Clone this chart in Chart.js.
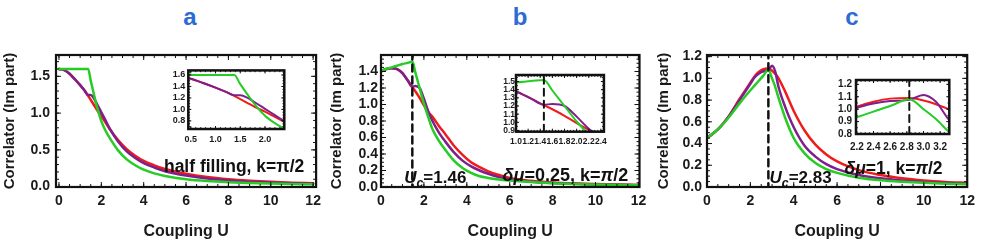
<!DOCTYPE html>
<html>
<head>
<meta charset="utf-8">
<script src="https://cdn.jsdelivr.net/npm/chart.js@4.4.1/dist/chart.umd.min.js"></script>
<style>
body{margin:0;width:981px;height:244px;background:#fff;position:relative;overflow:hidden}
canvas{position:absolute}
.tag{position:absolute;top:3px;width:40px;text-align:center;line-height:24px;color:#2c6ad5;font:bold 24px "Liberation Sans",Arial,sans-serif}
</style>
</head>
<body>
<div class="tag" style="left:170px">a</div>
<div class="tag" style="left:500px">b</div>
<div class="tag" style="left:832px">c</div>
<canvas id="cA" width="327" height="204" style="left:0;top:40px"></canvas>
<canvas id="cB" width="327" height="204" style="left:327px;top:40px"></canvas>
<canvas id="cC" width="327" height="204" style="left:654px;top:40px"></canvas>
<canvas id="iA" width="130" height="85" style="left:160px;top:62px"></canvas>
<canvas id="iB" width="122" height="85" style="left:490px;top:68px"></canvas>
<canvas id="iC" width="130" height="85" style="left:825px;top:70px"></canvas>
<script>
/* panel a : half filling */
const uA = [0, 0.25, 0.5, 0.75, 1.0, 1.2, 1.38, 1.5, 1.63, 1.8, 2.0, 2.2, 2.4, 2.8, 3.2, 3.6, 4, 4.5, 5, 6, 7, 8, 9, 10, 11, 12];
const redA = [1.60, 1.585, 1.535, 1.46, 1.38, 1.31, 1.235, 1.18, 1.12, 1.04, 0.96, 0.87, 0.78, 0.63, 0.51, 0.42, 0.35, 0.29, 0.24, 0.175, 0.13, 0.10, 0.08, 0.065, 0.054, 0.045];
const purpleA = [1.60, 1.585, 1.535, 1.46, 1.38, 1.31, 1.245, 1.245, 1.21, 1.12, 1.01, 0.90, 0.79, 0.61, 0.48, 0.39, 0.32, 0.26, 0.21, 0.15, 0.11, 0.085, 0.068, 0.055, 0.046, 0.04];
const greenA = [1.60, 1.60, 1.60, 1.60, 1.60, 1.60, 1.60, 1.44, 1.28, 1.08, 0.89, 0.76, 0.66, 0.49, 0.37, 0.29, 0.23, 0.18, 0.145, 0.10, 0.075, 0.06, 0.05, 0.042, 0.036, 0.031];

/* panel b : dmu = 0.25 */
const uB = [0, 0.25, 0.5, 0.75, 1.0, 1.25, 1.46, 1.6, 1.8, 2.0, 2.2, 2.4, 2.7, 3.0, 3.4, 3.8, 4.2, 4.6, 5, 5.5, 6, 7, 8, 9, 10, 11, 12];
const redB = [1.40, 1.43, 1.44, 1.43, 1.38, 1.29, 1.21, 1.16, 1.08, 0.99, 0.91, 0.85, 0.74, 0.64, 0.50, 0.39, 0.30, 0.24, 0.19, 0.145, 0.11, 0.075, 0.055, 0.043, 0.035, 0.029, 0.025];
const purpleB = [1.40, 1.43, 1.44, 1.43, 1.38, 1.29, 1.215, 1.225, 1.20, 1.07, 0.92, 0.80, 0.66, 0.55, 0.42, 0.32, 0.25, 0.20, 0.16, 0.12, 0.095, 0.065, 0.048, 0.038, 0.031, 0.026, 0.022];
const greenB = [1.41, 1.43, 1.45, 1.47, 1.49, 1.505, 1.52, 1.39, 1.20, 1.01, 0.85, 0.70, 0.56, 0.45, 0.32, 0.23, 0.17, 0.13, 0.11, 0.09, 0.078, 0.06, 0.045, 0.036, 0.03, 0.025, 0.02];
const ucB = 1.46;

/* panel c : dmu = 1 */
const uC = [0, 0.5, 1.0, 1.5, 2.0, 2.2, 2.4, 2.6, 2.83, 3.0, 3.15, 3.3, 3.6, 4.0, 4.5, 5, 5.5, 6, 7, 8, 9, 10, 11, 12];
const redC = [0.45, 0.53, 0.65, 0.81, 0.96, 1.02, 1.06, 1.085, 1.09, 1.07, 1.04, 1.00, 0.88, 0.70, 0.52, 0.39, 0.30, 0.235, 0.155, 0.11, 0.08, 0.06, 0.047, 0.038];
const purpleC = [0.45, 0.53, 0.65, 0.80, 0.95, 1.01, 1.045, 1.065, 1.075, 1.115, 1.06, 0.92, 0.74, 0.55, 0.38, 0.28, 0.21, 0.165, 0.11, 0.08, 0.06, 0.047, 0.038, 0.031];
const greenC = [0.45, 0.53, 0.64, 0.77, 0.89, 0.935, 0.98, 1.025, 1.08, 1.00, 0.92, 0.82, 0.64, 0.45, 0.31, 0.22, 0.165, 0.13, 0.085, 0.062, 0.048, 0.038, 0.031, 0.026];
const ucC = 2.83;

/* ticks */
const xTicksMain = [0, 2, 4, 6, 8, 10, 12];
const yTicksA = [0, 0.5, 1.0, 1.5];
const yTicksB = [0, 0.2, 0.4, 0.6, 0.8, 1.0, 1.2, 1.4];
const yTicksC = [0, 0.2, 0.4, 0.6, 0.8, 1.0, 1.2];
const xTicksIA = [0.5, 1.0, 1.5, 2.0];
const yTicksIA = [0.8, 1.0, 1.2, 1.4, 1.6];
const xTicksIB = [1.0, 1.2, 1.4, 1.6, 1.8, 2.0, 2.2, 2.4];
const yTicksIB = [0.9, 1.0, 1.1, 1.2, 1.3, 1.4, 1.5];
const xTicksIC = [2.2, 2.4, 2.6, 2.8, 3.0, 3.2];
const yTicksIC = [0.8, 0.9, 1.0, 1.1, 1.2];

const FONT = '"Liberation Sans", Arial, sans-serif';
const RED = '#f01c1c', PURPLE = '#7f1f8c', GREEN = '#24cc24';

function pts(u, v){ return u.map((x, i) => ({x: x, y: v[i]})); }

function series(u, r, p, g, w, uc){
  const s = [];
  if(uc != null){
    s.push({data: [{x: uc, y: -5}, {x: uc, y: 5}], borderColor: '#111', borderWidth: w, borderDash: [7, 5], cubicInterpolationMode: 'default', tension: 0});
  }
  s.push({data: pts(u, g), borderColor: GREEN, borderWidth: w});
  s.push({data: pts(u, p), borderColor: PURPLE, borderWidth: w});
  s.push({data: pts(u, r), borderColor: RED, borderWidth: w});
  return s;
}

function drawSegs(ctx, px, py, segs, size, align){
  const fonts = segs.map(s => (s.it ? 'italic ' : '') + 'bold ' + (s.sub ? size * 0.72 : size) + 'px ' + FONT);
  let w = 0;
  segs.forEach((s, i) => { ctx.font = fonts[i]; w += ctx.measureText(s.t).width; });
  let cx = align === 'right' ? px - w : px;
  ctx.textAlign = 'left';
  ctx.textBaseline = 'alphabetic';
  segs.forEach((s, i) => {
    ctx.font = fonts[i];
    ctx.fillText(s.t, cx, py + (s.sub ? size * 0.22 : 0));
    cx += ctx.measureText(s.t).width;
  });
}

/* frame with inward ticks + text notes */
const framePlugin = {
  id: 'frame',
  beforeDatasetsDraw(chart, args, o){
    if(!o.fill) return;
    const a = chart.chartArea, ctx = chart.ctx;
    ctx.save();
    ctx.fillStyle = '#fff';
    ctx.fillRect(a.left, a.top, a.width, a.height);
    ctx.restore();
  },
  afterDatasetsDraw(chart, args, o){
    const {ctx, chartArea: a, scales: {x, y}} = chart;
    ctx.save();
    ctx.strokeStyle = '#111';
    ctx.lineWidth = 1;
    const mark = (scale, step, len) => {
      const start = Math.ceil(scale.min / step - 1e-6) * step;
      for(let v = start; v <= scale.max + 1e-9; v += step){
        const p = scale.getPixelForValue(v);
        ctx.beginPath();
        if(scale.axis === 'x'){
          ctx.moveTo(p, a.bottom); ctx.lineTo(p, a.bottom - len);
          ctx.moveTo(p, a.top); ctx.lineTo(p, a.top + len);
        } else {
          ctx.moveTo(a.left, p); ctx.lineTo(a.left + len, p);
          ctx.moveTo(a.right, p); ctx.lineTo(a.right - len, p);
        }
        ctx.stroke();
      }
    };
    mark(x, o.xMajor, o.len); mark(x, o.xMinor, o.len * 0.6);
    mark(y, o.yMajor, o.len); mark(y, o.yMinor, o.len * 0.6);
    ctx.lineWidth = o.lw;
    ctx.strokeRect(a.left, a.top, a.width, a.height);
    ctx.fillStyle = '#111';
    (o.notes || []).forEach(n => {
      drawSegs(ctx, x.getPixelForValue(n.x), y.getPixelForValue(n.y), n.segs, n.size, n.align);
    });
    ctx.restore();
  }
};

function makeChart(id, c){
  const tickFont = {family: FONT, size: c.fs, weight: 'bold'};
  new Chart(document.getElementById(id), {
    type: 'line',
    data: {datasets: c.datasets},
    options: {
      responsive: false,
      animation: false,
      events: [],
      clip: true,
      layout: {autoPadding: false, padding: {left: 0, top: c.padT, right: c.padR, bottom: 0}},
      elements: {
        point: {radius: 0},
        line: {cubicInterpolationMode: 'monotone', fill: false, borderCapStyle: 'round', borderJoinStyle: 'round'}
      },
      plugins: {
        legend: {display: false},
        tooltip: {enabled: false},
        frame: {lw: c.lw, len: c.len, xMajor: c.xMajor, xMinor: c.xMinor, yMajor: c.yMajor, yMinor: c.yMinor, notes: c.notes, fill: c.fill}
      },
      scales: {
        x: {
          type: 'linear', min: c.xr[0], max: c.xr[1],
          grid: {display: false, drawTicks: false}, border: {display: false},
          afterBuildTicks: s => { s.ticks = c.xt.map(v => ({value: v})); },
          afterFit: s => { s.height = c.xH; },
          ticks: {font: tickFont, color: '#1a1a1a', padding: c.xPad, autoSkip: false, maxRotation: 0, minRotation: 0,
            callback: v => v.toFixed(c.xDec)},
          title: c.xTitle ? {display: true, text: c.xTitle, color: '#1a1a1a', font: {family: FONT, size: 16, weight: 'bold'}, padding: {top: 0, bottom: 3}} : {display: false}
        },
        y: {
          type: 'linear', min: c.yr[0], max: c.yr[1],
          grid: {display: false, drawTicks: false}, border: {display: false},
          afterBuildTicks: s => { s.ticks = c.yt.map(v => ({value: v})); },
          afterFit: s => { s.width = c.yW; },
          ticks: {font: tickFont, color: '#1a1a1a', padding: c.yPad, autoSkip: false,
            callback: v => v.toFixed(1)},
          title: c.yTitle ? {display: true, text: c.yTitle, color: '#1a1a1a', font: {family: FONT, size: 15, weight: 'bold'}, padding: {top: 1, bottom: 0}} : {display: false}
        }
      }
    },
    plugins: [framePlugin]
  });
}

const main = {fs: 14, lw: 2.2, len: 5, xMajor: 2, xMinor: 0.5, xt: xTicksMain, xDec: 0, xPad: 6, xH: 57, padT: 15,
  xTitle: 'Coupling U', yTitle: 'Correlator (Im part)'};

makeChart('cA', Object.assign({}, main, {
  datasets: series(uA, redA, purpleA, greenA, 2.5),
  xr: [-0.14, 12.14], yr: [-0.005, 1.79], yt: yTicksA, yMajor: 0.5, yMinor: 0.1,
  yW: 56, yPad: 6, padR: 7,
  notes: [{x: 11.58, y: 0.2, size: 17.5, align: 'right', segs: [{t: 'half filling, k=\u03c0/2'}]}]
}));

makeChart('cB', Object.assign({}, main, {
  datasets: series(uB, redB, purpleB, greenB, 2.5, ucB),
  xr: [0, 12.05], yr: [0, 1.6], yt: yTicksB, yMajor: 0.2, yMinor: 0.05,
  yW: 54, yPad: 3, padR: 14.5,
  notes: [
    {x: 1.085, y: 0.05, size: 17, segs: [{t: 'U', it: true}, {t: 'c', it: true, sub: true}, {t: '=1.46'}]},
    {x: 11.53, y: 0.074, size: 18, align: 'right', segs: [{t: '\u03b4\u03bc', it: true}, {t: '=0.25, k='}, {t: '\u03c0', it: true}, {t: '/2'}]}
  ]
}));

makeChart('cC', Object.assign({}, main, {
  datasets: series(uC, redC, purpleC, greenC, 2.5, ucC),
  xr: [0, 12], yr: [0, 1.215], yt: yTicksC, yMajor: 0.2, yMinor: 0.05,
  yW: 53, yPad: 5, padR: 11,
  notes: [
    {x: 2.885, y: 0.034, size: 17, segs: [{t: 'U', it: true}, {t: 'c', it: true, sub: true}, {t: '=2.83'}]},
    {x: 10.86, y: 0.117, size: 17.5, align: 'right', segs: [{t: '\u03b4\u03bc', it: true}, {t: '=1, k='}, {t: '\u03c0', it: true}, {t: '/2'}]}
  ]
}));

const inset = {lw: 2.5, len: 3, xDec: 1, fill: true};

makeChart('iA', Object.assign({}, inset, {
  datasets: series(uA, redA, purpleA, greenA, 2),
  fs: 9, xr: [0.45, 2.39], yr: [0.658, 1.68], xt: xTicksIA, yt: yTicksIA,
  xMajor: 0.5, xMinor: 0.1, yMajor: 0.2, yMinor: 0.05,
  yW: 28.3, yPad: 3, xH: 18, xPad: 5, padT: 7.3, padR: 5.7
}));

makeChart('iB', Object.assign({}, inset, {
  datasets: series(uB, redB, purpleB, greenB, 2, ucB),
  fs: 8.5, xr: [1.0, 2.45], yr: [0.885, 1.58], xt: xTicksIB, yt: yTicksIB,
  xMajor: 0.2, xMinor: 0.05, yMajor: 0.1, yMinor: 0.05,
  yW: 26, yPad: 1, xH: 21.3, xPad: 5, padT: 7, padR: 6
}));

makeChart('iC', Object.assign({}, inset, {
  datasets: series(uC, redC, purpleC, greenC, 2, ucC),
  fs: 10, xr: [2.19, 3.31], yr: [0.8, 1.235], xt: xTicksIC, yt: yTicksIC,
  xMajor: 0.2, xMinor: 0.05, yMajor: 0.1, yMinor: 0.05,
  yW: 31, yPad: 4, xH: 21, xPad: 7, padT: 8.3, padR: 5.7
}));
</script>
</body>
</html>
